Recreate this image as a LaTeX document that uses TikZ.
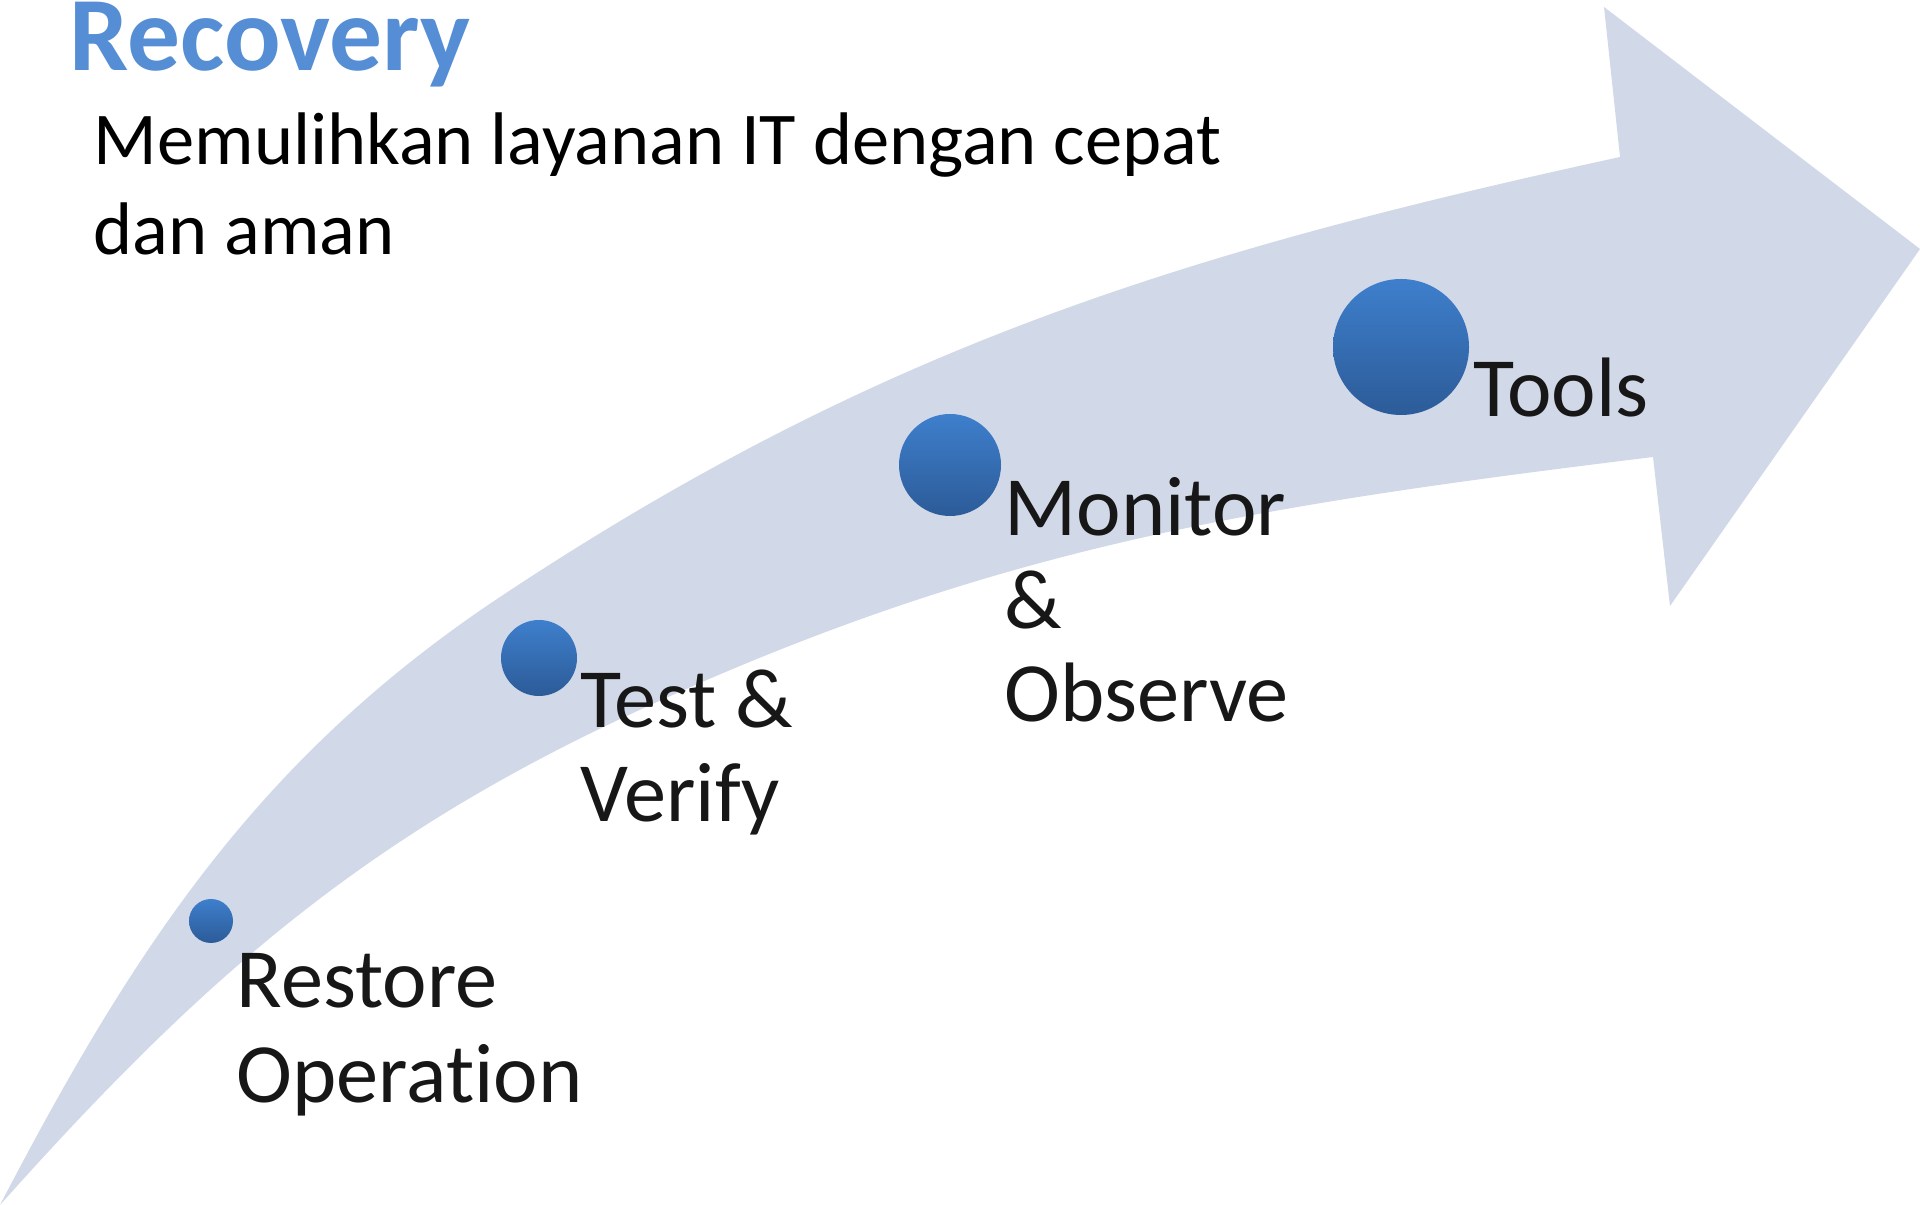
\documentclass[tikz,border=0pt]{standalone}
\usepackage{fontspec}
\setmainfont{Carlito}[Ligatures=NoCommon]
\definecolor{band}{RGB}{209,216,232}
\definecolor{dottop}{RGB}{62,127,204}
\definecolor{dotbot}{RGB}{44,91,152}
\definecolor{titleblue}{RGB}{85,142,213}
\definecolor{ink}{RGB}{23,23,23}
\tikzset{
  dot/.style={circle, draw=none, inner sep=0pt, top color=dottop, bottom color=dotbot},
  lbl/.style={anchor=base west, inner sep=0pt, text=ink, font=\fontsize{24}{28}\selectfont},
  body/.style={anchor=base west, inner sep=0pt, text=black, font=\fontsize{21.2}{25}\selectfont},
  heading/.style={anchor=base west, inner sep=0pt, text=titleblue, font=\fontsize{30}{34}\selectfont\bfseries},
}
\begin{document}
\begin{tikzpicture}
\clip (0,0) rectangle (19.2,-12.05);
\fill[white] (0,0) rectangle (19.2,-12.05);
% curved block arrow
\fill[band] (0,-12.05)
  .. controls (1.34,-9.48) and (2.58,-7.58) .. (5.00,-5.97)
  .. controls (8.75,-3.48) and (11.80,-2.53) .. (16.20,-1.57)
  -- (16.04,-0.07) -- (19.2,-2.49) -- (16.70,-6.06) -- (16.53,-4.57)
  .. controls (12.56,-5.06) and (9.96,-5.45) .. (6.33,-7.13)
  .. controls (3.61,-8.39) and (2.00,-9.81) .. (0,-12.05)
  -- cycle;
% milestones
\node[dot, minimum size=0.44cm] (d1) at (2.11,-9.21) {};
\node[dot, minimum size=0.76cm] (d2) at (5.39,-6.58) {};
\node[dot, minimum size=1.02cm] (d3) at (9.50,-4.65) {};
\node[dot, minimum size=1.36cm] (d4) at (14.01,-3.47) {};
% labels
\node[lbl] (restoreA) at (2.36,-10.08) {Restore};
\node[lbl] (restoreB) at (2.36,-11.02) {Operation};
\node[lbl] (testA) at (5.80,-7.28) {Test \&};
\node[lbl] (testB) at (5.80,-8.22) {Verify};
\node[lbl] (monA) at (10.04,-5.36) {Monitor};
\node[lbl] (monB) at (10.04,-6.29) {\&};
\node[lbl] (monC) at (10.04,-7.22) {Observe};
\node[lbl] (tools) at (14.73,-4.17) {Tools};
% heading and description
\node[heading] (title) at (0.69,-0.71) {Recovery};
\node[body] (subA) at (0.93,-1.65) {Memulihkan layanan IT dengan cepat};
\node[body] (subB) at (0.93,-2.55) {dan aman};
\end{tikzpicture}
\end{document}
